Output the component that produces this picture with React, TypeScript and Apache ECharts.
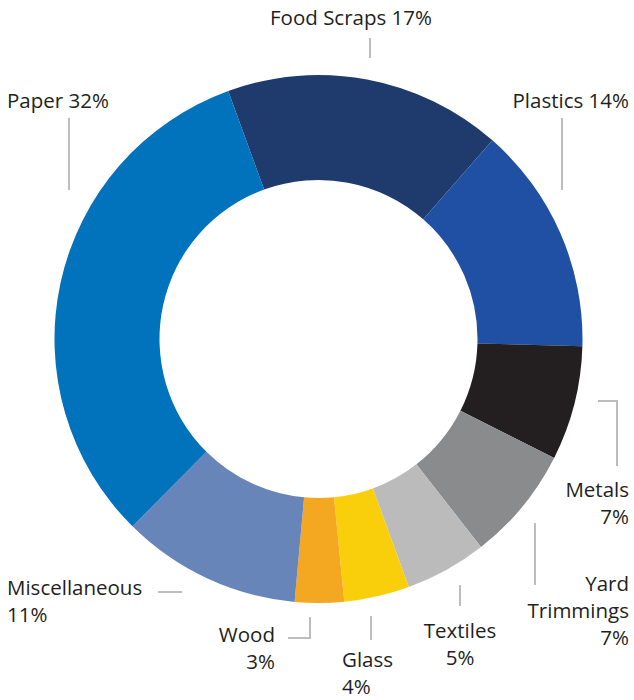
import React, { useEffect, useRef } from "react";
import * as echarts from "echarts";

const categories = ["Food Scraps", "Plastics", "Metals", "Yard Trimmings", "Textiles", "Glass", "Wood", "Miscellaneous", "Paper"];
const values = [17, 14, 7, 7, 5, 4, 3, 11, 32];
const colors = ["#1f3a6c", "#2050a3", "#231f20", "#8a8b8d", "#bbbbbb", "#f9cf0c", "#f4a720", "#6785b8", "#0073bc"];
// label text layout: how each category's label is broken into lines
const labelLines: string[][] = [
  ["Food Scraps"], ["Plastics"], ["Metals"], ["Yard", "Trimmings"], ["Textiles"], ["Glass"], ["Wood"], ["Miscellaneous"], ["Paper"],
];
const singleLine = [true, true, false, false, false, false, false, false, true];

// label anchors (layout only)
const labelPos: { x: number; y: number; align: string }[] = [
  { x: 351, y: 17, align: "center" },
  { x: 629, y: 100, align: "right" },
  { x: 629, y: 502.5, align: "right" },
  { x: 629, y: 610, align: "right" },
  { x: 460, y: 643.5, align: "center" },
  { x: 342, y: 672.5, align: "left" },
  { x: 275, y: 647.5, align: "right" },
  { x: 7, y: 600.5, align: "left" },
  { x: 7, y: 100, align: "left" },
];

// leader lines (decoration)
const leaders: number[][][] = [
  [[370, 38], [370, 58]],
  [[562, 118], [562, 190]],
  [[598, 401], [617, 401], [617, 466]],
  [[535, 523], [535, 585]],
  [[460, 585], [460, 606]],
  [[371, 616], [371, 640]],
  [[288, 638], [310, 638], [310, 617]],
  [[158, 592], [182, 592]],
  [[69, 118], [69, 190]],
];

export default function App() {
  const ref = useRef<HTMLDivElement>(null);
  useEffect(() => {
    if (!ref.current) return;
    const chart = echarts.init(ref.current, null, { renderer: "svg" });
    const total = values.reduce((a, b) => a + b, 0);
    chart.setOption({
      animation: false,
      backgroundColor: "#ffffff",
      graphic: leaders.map((pts) => ({
        type: "polyline",
        shape: { points: pts },
        style: { stroke: "#bcbdc0", lineWidth: 2, fill: "none" },
        silent: true,
      })),
      series: [
        {
          type: "pie",
          center: [318.5, 339],
          radius: [159, 264],
          startAngle: 110,
          clockwise: true,
          avoidLabelOverlap: false,
          itemStyle: { borderWidth: 0 },
          emphasis: { disabled: true },
          data: categories.map((c, i) => ({ name: c, value: values[i], itemStyle: { color: colors[i] } })),
          label: {
            show: true,
            position: "outside",
            color: "#231f20",
            fontFamily: "Open Sans",
            fontSize: 20.5,
            lineHeight: 27,
            formatter: (p: any) => {
              const i = p.dataIndex;
              const pct = Math.round((values[i] / total) * 100) + "%";
              if (singleLine[i]) return labelLines[i].join(" ") + " " + pct;
              return [...labelLines[i], pct].join("\n");
            },
          },
          labelLine: { show: false },
          labelLayout: (params: any) => {
            const lp = labelPos[params.dataIndex];
            return { x: lp.x, y: lp.y, align: lp.align, verticalAlign: "middle" };
          },
        },
      ],
    });
    return () => chart.dispose();
  }, []);
  return <div ref={ref} style={{ position: "fixed", left: 0, top: 0, width: 634, height: 700 }} />;
}
